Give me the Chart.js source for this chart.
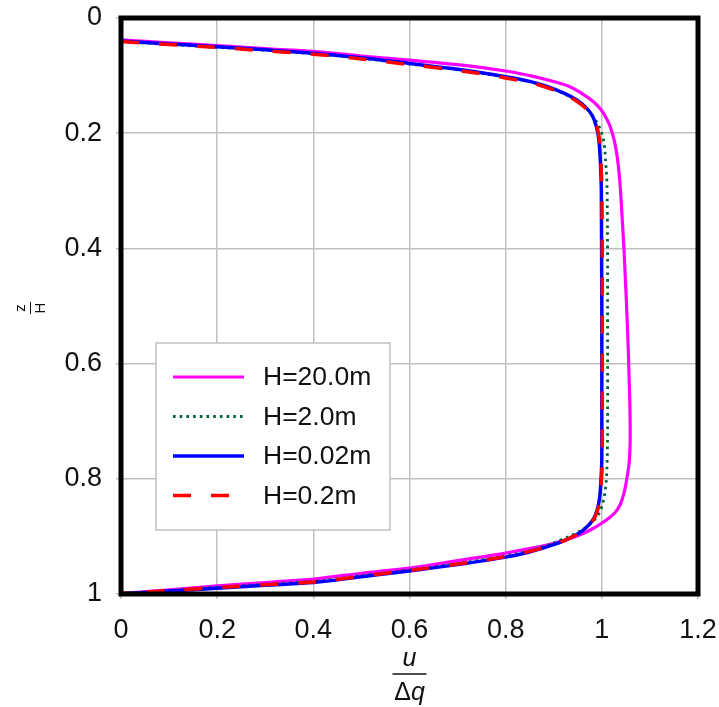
<!DOCTYPE html>
<html><head><meta charset="utf-8">
<script src="https://cdn.jsdelivr.net/npm/chart.js@4/dist/chart.umd.min.js"></script>
<style>html,body{margin:0;padding:0;background:#fff}</style>
</head><body>
<canvas id="c" width="719" height="707"></canvas>
<script>
// ---- data (u/Δq versus z/H) ----
const seriesLabels = ['H=20.0m', 'H=2.0m', 'H=0.02m', 'H=0.2m'];

const zH20 = [0.038,0.043,0.048,0.053,0.058,0.066,0.073,0.081,0.092,0.100,0.108,0.118,0.133,0.145,0.159,0.175,0.190,0.210,0.230,0.270,0.315,0.400,0.490,0.575,0.660,0.720,0.770,0.800,0.825,0.845,0.858,0.868,0.878,0.888,0.897,0.906,0.914,0.921,0.929,0.942,0.955,0.964,0.974,0.980,0.986,0.993,0.999];
const uH20 = [0,0.1,0.2,0.3,0.4,0.5,0.6,0.7,0.8,0.85,0.89,0.93,0.962,0.982,0.998,1.010,1.018,1.025,1.030,1.036,1.040,1.046,1.051,1.055,1.058,1.059,1.057,1.052,1.046,1.038,1.028,1.015,0.998,0.978,0.955,0.925,0.89,0.85,0.80,0.70,0.60,0.50,0.40,0.30,0.20,0.10,0];

const zH2 = [0.041,0.046,0.051,0.056,0.062,0.070,0.080,0.090,0.103,0.111,0.121,0.131,0.143,0.157,0.172,0.190,0.210,0.250,0.300,0.500,0.700,0.770,0.805,0.835,0.855,0.868,0.879,0.889,0.898,0.906,0.915,0.925,0.934,0.947,0.958,0.968,0.978,0.983,0.988,0.994,0.999];
const uH2 = [0,0.1,0.2,0.3,0.4,0.5,0.6,0.7,0.8,0.85,0.89,0.92,0.947,0.968,0.983,0.995,1.003,1.008,1.011,1.012,1.012,1.011,1.009,1.004,0.997,0.988,0.975,0.958,0.938,0.915,0.888,0.85,0.80,0.70,0.60,0.50,0.40,0.30,0.20,0.10,0];

const zH002 = [0.040,0.045,0.050,0.055,0.061,0.069,0.079,0.089,0.102,0.110,0.120,0.130,0.142,0.156,0.171,0.190,0.206,0.250,0.300,0.500,0.760,0.805,0.835,0.855,0.869,0.880,0.890,0.899,0.908,0.917,0.927,0.936,0.949,0.960,0.970,0.980,0.985,0.990,0.995,1.000];
const uH002 = [0,0.1,0.2,0.3,0.4,0.5,0.6,0.7,0.8,0.85,0.89,0.92,0.947,0.968,0.981,0.989,0.993,0.997,0.999,1.000,1.000,0.998,0.995,0.990,0.983,0.973,0.960,0.943,0.920,0.890,0.850,0.800,0.700,0.600,0.500,0.400,0.300,0.200,0.100,0];

const zH02 = [0.041,0.046,0.051,0.057,0.063,0.071,0.081,0.091,0.104,0.112,0.122,0.132,0.144,0.158,0.173,0.190,0.210,0.250,0.300,0.500,0.760,0.805,0.835,0.855,0.869,0.880,0.890,0.899,0.908,0.917,0.926,0.935,0.948,0.959,0.969,0.979,0.984,0.989,0.994,0.999];
const uH02 = [0,0.1,0.2,0.3,0.4,0.5,0.6,0.7,0.8,0.85,0.89,0.92,0.947,0.968,0.981,0.990,0.995,0.998,1.000,1.001,1.001,0.999,0.996,0.991,0.984,0.974,0.960,0.943,0.920,0.890,0.850,0.800,0.700,0.600,0.500,0.400,0.300,0.200,0.100,0];

const xTicks = [0, 0.2, 0.4, 0.6, 0.8, 1, 1.2];
const yTicks = [0, 0.2, 0.4, 0.6, 0.8, 1];
const xTickLabels = ['0', '0.2', '0.4', '0.6', '0.8', '1', '1.2'];
const yTickLabels = ['0', '0.2', '0.4', '0.6', '0.8', '1'];

// ---- build datasets ----
function pts(us, zs) { return zs.map((z, i) => ({ x: us[i], y: z })); }
const FONT = '"Liberation Sans", Arial, sans-serif';

const datasets = [
  { label: seriesLabels[0], data: pts(uH20, zH20), borderColor: '#ff00ff', borderWidth: 3.2, order: 4 },
  { label: seriesLabels[1], data: pts(uH2, zH2), borderColor: '#006633', borderWidth: 2.8, borderDash: [2.6, 4.1], order: 3 },
  { label: seriesLabels[2], data: pts(uH002, zH002), borderColor: '#0000ff', borderWidth: 3.5, order: 2 },
  { label: seriesLabels[3], data: pts(uH02, zH02), borderColor: '#ff0000', borderWidth: 3.5, borderDash: [18, 20], order: 1 }
].map(d => Object.assign({ pointRadius: 0, fill: false, cubicInterpolationMode: 'monotone', borderCapStyle: 'butt', indexAxis: 'y' }, d));

function noPad(s) { s.paddingTop = 0; s.paddingBottom = 0; s.paddingLeft = 0; s.paddingRight = 0; }

const framePlugin = {
  id: 'frame',
  afterDatasetsDraw(chart) {
    const { ctx, chartArea: a } = chart;
    ctx.save();
    ctx.strokeStyle = '#000';
    ctx.lineWidth = 5;
    ctx.strokeRect(a.left, a.top, a.right - a.left, a.bottom - a.top);
    ctx.restore();
  }
};

const legendPlugin = {
  id: 'boxLegend',
  afterDraw(chart) {
    const ctx = chart.ctx;
    const box = { x: 156, y: 343, w: 234, h: 187 };
    ctx.save();
    ctx.fillStyle = '#fff';
    ctx.fillRect(box.x, box.y, box.w, box.h);
    ctx.strokeStyle = '#c0c0c0';
    ctx.lineWidth = 1.5;
    ctx.strokeRect(box.x, box.y, box.w, box.h);
    const rowY = [377, 416.5, 456, 495.5];
    chart.data.datasets.forEach((ds, i) => {
      const y = rowY[i];
      ctx.beginPath();
      ctx.strokeStyle = ds.borderColor;
      ctx.lineWidth = ds.borderWidth;
      ctx.setLineDash(ds.borderDash || []);
      ctx.lineCap = 'butt';
      ctx.moveTo(173, y);
      ctx.lineTo(244, y);
      ctx.stroke();
      ctx.setLineDash([]);
      ctx.fillStyle = '#111';
      ctx.font = '26.5px ' + FONT;
      ctx.textAlign = 'left';
      ctx.textBaseline = 'middle';
      ctx.fillText(ds.label, 263, y + 1);
    });
    ctx.restore();
  }
};

const titlePlugin = {
  id: 'fracTitles',
  afterDraw(chart) {
    const ctx = chart.ctx;
    const a = chart.chartArea;
    const cx = (a.left + a.right) / 2;
    ctx.save();
    ctx.fillStyle = '#111';
    ctx.strokeStyle = '#111';
    ctx.textBaseline = 'middle';
    ctx.textAlign = 'center';
    // x title: u / Δq
    ctx.font = 'italic 25px ' + FONT;
    ctx.fillText('u', cx, 659);
    ctx.lineWidth = 1.4;
    ctx.beginPath(); ctx.moveTo(cx - 17, 674); ctx.lineTo(cx + 17, 674); ctx.stroke();
    ctx.font = '25px ' + FONT;
    const wD = ctx.measureText('\u0394').width;
    ctx.font = 'italic 25px ' + FONT;
    const wq = ctx.measureText('q').width;
    const start = cx - (wD + wq) / 2;
    ctx.textAlign = 'left';
    ctx.font = '25px ' + FONT;
    ctx.fillText('\u0394', start, 693);
    ctx.font = 'italic 25px ' + FONT;
    ctx.fillText('q', start + wD, 693);
    // y title: z / H rotated
    ctx.translate(30.5, (a.top + a.bottom) / 2 + 2);
    ctx.rotate(-Math.PI / 2);
    ctx.textAlign = 'center';
    ctx.font = '15px ' + FONT;
    ctx.fillText('z', 0, -10);
    ctx.lineWidth = 1;
    ctx.beginPath(); ctx.moveTo(-6, 0); ctx.lineTo(6, 0); ctx.stroke();
    ctx.fillText('H', 0, 10.5);
    ctx.restore();
  }
};

new Chart(document.getElementById('c'), {
  type: 'line',
  data: { datasets },
  options: {
    responsive: false,
    animation: false,
    indexAxis: 'y',
    layout: { padding: { left: 0, right: 21, top: 18, bottom: 0 } },
    plugins: { legend: { display: false }, tooltip: { enabled: false } },
    scales: {
      x: {
        type: 'linear', position: 'bottom', min: 0, max: 1.2,
        afterFit(s) { s.height = 113; noPad(s); },
        afterBuildTicks(s) { s.ticks = xTicks.map(v => ({ value: v })); },
        border: { display: false },
        grid: { color: '#c0c0c0', lineWidth: 1.5, tickColor: '#c0c0c0', tickLength: 5 },
        ticks: { padding: 15, color: '#111', font: { family: FONT, size: 27 }, maxRotation: 0,
          callback: (v) => xTickLabels[xTicks.indexOf(Math.round(v * 10) / 10)] }
      },
      y: {
        type: 'linear', position: 'left', min: 0, max: 1, reverse: true,
        afterFit(s) { s.width = 121; noPad(s); },
        afterBuildTicks(s) { s.ticks = yTicks.map(v => ({ value: v })); },
        border: { display: false },
        grid: { color: '#c0c0c0', lineWidth: 1.5, tickColor: '#c0c0c0', tickLength: 5 },
        ticks: { padding: 14, color: '#111', font: { family: FONT, size: 27 },
          callback: (v) => yTickLabels[yTicks.indexOf(Math.round(v * 10) / 10)] }
      }
    }
  },
  plugins: [framePlugin, legendPlugin, titlePlugin]
});
</script>
</body></html>
